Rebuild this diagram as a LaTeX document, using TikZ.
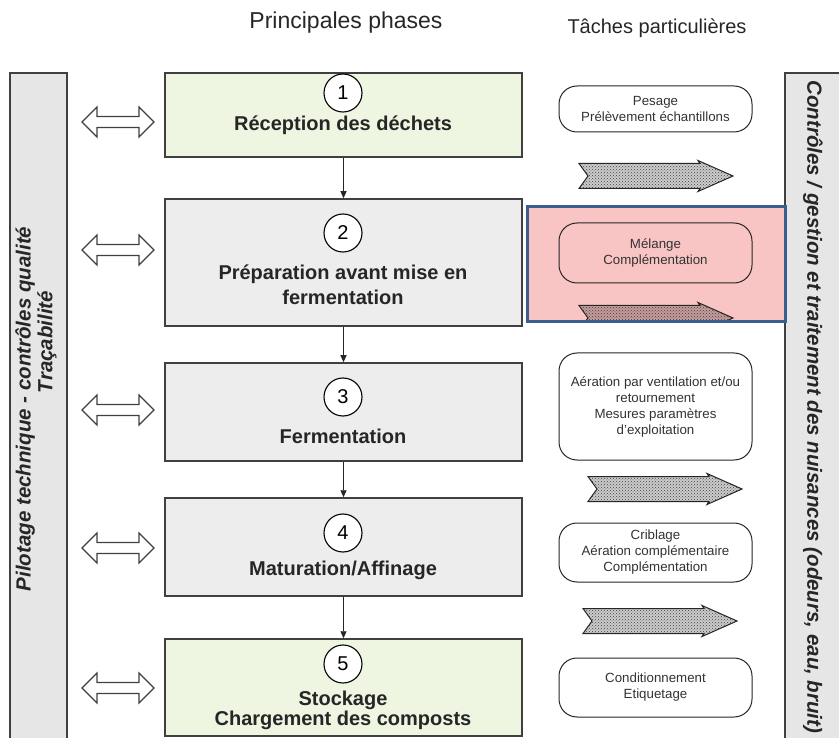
\documentclass[tikz,border=0pt]{standalone}
\usepackage{fontspec}
\setmainfont{Liberation Sans}
\usetikzlibrary{patterns}
\usetikzlibrary{arrows.meta}
\definecolor{phasegreen}{HTML}{EEF5E1}
\definecolor{phasegray}{HTML}{EDEDED}
\definecolor{bargray}{HTML}{E6E6E6}
\definecolor{edgegray}{HTML}{404040}
\definecolor{hilitepink}{HTML}{F8C4C4}
\definecolor{hiliteblue}{HTML}{3A5F8E}
\tikzset{
  phasebox/.style = {draw=edgegray, line width=1.5pt, minimum width=357pt, inner sep=0pt},
  numcirc/.style = {circle, draw, line width=1.1pt, fill=white, minimum size=38pt,
    inner sep=0pt, font=\fontsize{20}{24}\selectfont},
  phasetext/.style = {font=\fontsize{20}{25}\selectfont\bfseries, align=center, text=black!85},
  taskbox/.style = {draw=black!85, line width=1pt, rounded corners=18pt, minimum width=193pt,
    inner sep=0pt, align=center, font=\fontsize{13.3}{16}\selectfont, text=black!80},
  bartext/.style = {font=\fontsize{20.5}{24}\selectfont\bfseries\itshape, text=black!85},
  stripe/.pic = {
    \path[draw=black!85, line width=1pt, preaction={fill=black, fill opacity=0.2},
      pattern=crosshatch dots, pattern color=black!75]
      (0,-12.5) -- (121,-12.5) -- (119,-15.5) -- (154,0) -- (119,15.5)
      -- (121,12.5) -- (0,12.5) -- (9,0) -- cycle;
  },
  twoway/.pic = {
    \draw[draw=edgegray, line width=1.1pt, fill=white]
      (-36,0) -- (-21,-15) -- (-21,-5.5) -- (21,-5.5) -- (21,-15) -- (36,0)
      -- (21,15) -- (21,5.5) -- (-21,5.5) -- (-21,15) -- cycle;
  },
}
\begin{document}
\begin{tikzpicture}[x=1pt, y=-1pt]
  \useasboundingbox (0,0) rectangle (839,738);
  \clip (0,0) rectangle (839,738);

  % titles
  \node[anchor=base, font=\fontsize{23}{27}\selectfont, text=black!85] (titlephases) at (346,29) {Principales phases};
  \node[anchor=base, font=\fontsize{20}{24}\selectfont, text=black!85] (titletasks) at (657,34) {Tâches particulières};

  % side bars
  \fill[bargray] (10,73) rectangle (850,745);
  \fill[white] (67,73) rectangle (785,745);
  \draw[draw=edgegray, line width=1.3pt] (10,745) |- (67,73) -- (67,745);
  \draw[draw=edgegray, line width=1.3pt] (785,745) |- (850,73);
  \node[bartext, rotate=90] (pilot) at (25,409) {Pilotage technique - contrôles qualité};
  \node[bartext, rotate=90] (trace) at (47,342) {Traçabilité};
  \node[bartext, rotate=-90] (nuis) at (813,407) {Contrôles / gestion et traitement des nuisances (odeurs, eau, bruit)};

  % highlight behind task 2
  \fill[hilitepink] (527,207) rectangle (785,322);

  % main phases
  \node[phasebox, fill=phasegreen, minimum height=84pt] (phase1) at (343.5,115) {};
  \node[phasebox, fill=phasegray, minimum height=127pt] (phase2) at (343.5,262.5) {};
  \node[phasebox, fill=phasegray, minimum height=98pt] (phase3) at (343.5,412) {};
  \node[phasebox, fill=phasegray, minimum height=98pt] (phase4) at (343.5,547) {};
  \node[phasebox, fill=phasegreen, minimum height=97pt] (phase5) at (343.5,687.5) {};

  \foreach \i/\y in {1/93, 2/233, 3/397, 4/533, 5/664}
    \node[numcirc] (num\i) at (343,\y) {\i};

  \node[phasetext] (label1) at (343,125) {Réception des déchets};
  \node[phasetext] (label2) at (343,285) {Préparation avant mise en\\fermentation};
  \node[phasetext] (label3) at (343,436) {Fermentation};
  \node[phasetext] (label4) at (343,570) {Maturation/Affinage};
  \node[phasetext, font=\fontsize{20}{20}\selectfont\bfseries] (label5) at (343,710) {Stockage\\Chargement des composts};

  \begin{scope}[->, >={Triangle[length=7pt, width=6pt]}, line width=0.9pt, black!85]
    \draw (phase1) -- (phase2);
    \draw (phase2) -- (phase3);
    \draw (phase3) -- (phase4);
    \draw (phase4) -- (phase5);
  \end{scope}

  % two-way arrows to the left bar
  \foreach \y in {122, 250, 410, 548, 688}
    \pic at (118,\y) {twoway};

  % particular tasks
  \node[taskbox, minimum height=46pt] (task1) at (655.5,109) {Pesage\\Prélèvement échantillons};
  \node[taskbox, minimum height=60pt] (task2) at (655.5,253) {Mélange\\Complémentation};
  \node[taskbox, minimum height=107pt] (task3) at (655.5,406.5) {Aération par ventilation et/ou\\retournement\\Mesures paramètres\\d'exploitation};
  \node[taskbox, minimum height=59pt] (task4) at (655.5,552.5) {Criblage\\Aération complémentaire\\Complémentation};
  \node[taskbox, minimum height=59pt] (task5) at (655.5,687.5) {Conditionnement\\Etiquetage};

  \pic at (579,176) {stripe};
  \begin{scope}
    \clip (527,207) rectangle (785,321);
    \pic at (579,318) {stripe};
  \end{scope}
  \pic at (588,489) {stripe};
  \pic at (583,621) {stripe};

  \draw[hiliteblue, line width=3pt] (527,207) rectangle (785,322);
\end{tikzpicture}
\end{document}
